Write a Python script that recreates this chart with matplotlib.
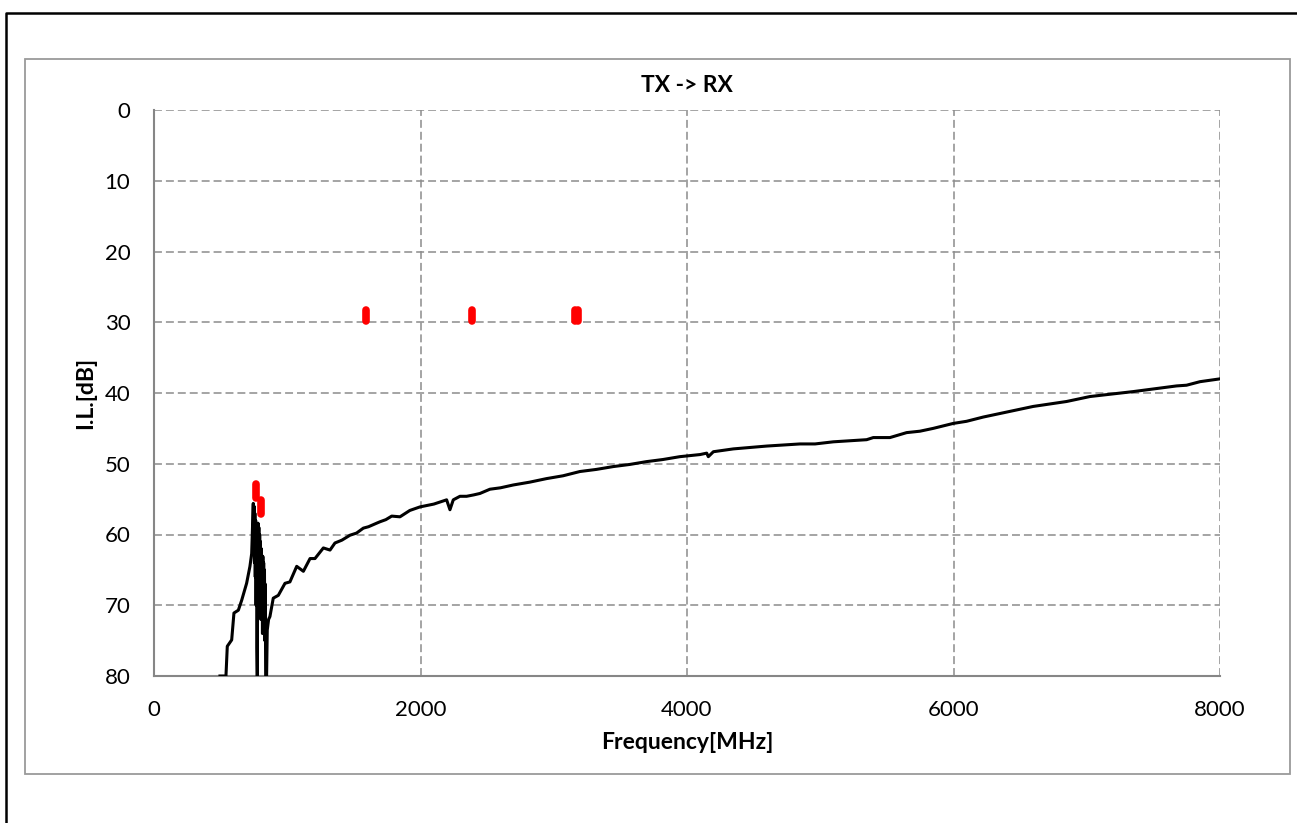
import matplotlib
matplotlib.use("Agg")
import matplotlib.pyplot as plt
from matplotlib.patches import Rectangle
from matplotlib.lines import Line2D

plt.rcParams['font.family'] = ['Lato', 'DejaVu Sans']

# ---- data ----
freq_mhz = [495, 540, 550, 583, 600, 633, 658, 695, 720, 733, 745,
            748, 751, 754, 757, 760, 763, 766, 769, 772, 775, 778, 781, 784,
            787, 790, 793, 796, 799, 802, 805, 808, 811, 814, 817, 820, 823,
            826, 829, 832, 835, 838, 841, 845, 850, 860, 870,
            895, 933, 983, 1020, 1071, 1121, 1171, 1208, 1271, 1321, 1358,
            1410, 1471, 1520, 1571, 1610, 1671, 1696, 1740, 1784, 1846, 1920,
            1996, 2100, 2196, 2221, 2246, 2296, 2346, 2400, 2446, 2521, 2600,
            2696, 2820, 2946, 3070, 3196, 3320, 3446, 3570, 3696, 3820, 3946,
            4098, 4148, 4160, 4198, 4348, 4598, 4848, 4961, 5098, 5348, 5398,
            5523, 5648, 5748, 5848, 5998, 6098, 6223, 6348, 6598, 6849, 7024,
            7349, 7674, 7749, 7850, 8000]
il_db = [80.0, 80.0, 75.8, 74.9, 71.1, 70.7, 69.3, 66.9, 64.5, 62.7, 55.6,
         62.0, 56.0, 64.0, 57.0, 66.0, 58.0, 70.0, 60.0, 76.0, 80.0, 66.0, 58.4, 63.0,
         59.0, 67.0, 60.0, 69.0, 61.0, 72.0, 62.0, 70.0, 63.0, 74.0, 63.1, 71.0, 64.0,
         73.0, 65.0, 75.0, 67.0, 80.0, 80.0, 80.0, 73.5, 72.0, 71.6,
         69.0, 68.6, 66.9, 66.7, 64.5, 65.2, 63.4, 63.4, 61.9, 62.2, 61.2,
         60.8, 60.1, 59.8, 59.1, 58.9, 58.4, 58.2, 57.9, 57.4, 57.5, 56.6,
         56.1, 55.7, 55.1, 56.5, 55.1, 54.6, 54.6, 54.4, 54.2, 53.6, 53.4,
         53.0, 52.6, 52.1, 51.7, 51.1, 50.8, 50.4, 50.1, 49.7, 49.4, 49.0,
         48.7, 48.5, 49.0, 48.3, 47.9, 47.5, 47.2, 47.2, 46.9, 46.6, 46.3,
         46.3, 45.6, 45.4, 45.0, 44.3, 44.0, 43.4, 42.9, 41.9, 41.2, 40.5,
         39.8, 39.0, 38.9, 38.4, 38.0]

# red spec markers: frequency, top dB, bottom dB
spec_freq = [765, 800, 1591, 2384, 3158, 3182]
spec_top = [52.9, 55.1, 28.2, 28.2, 28.2, 28.2]
spec_bot = [54.9, 57.1, 29.8, 29.8, 29.8, 29.8]

x_ticks = [0, 2000, 4000, 6000, 8000]
y_ticks = [0, 10, 20, 30, 40, 50, 60, 70, 80]

W, H = 1297, 823
fig = plt.figure(figsize=(W / 100, H / 100), dpi=100)
ax = fig.add_axes([154 / W, 1 - 676 / H, (1220 - 154) / W, (676 - 110) / H])

ax.plot(freq_mhz, il_db, color='black', lw=2.2, zorder=3, solid_joinstyle='round')
for f, t, b in zip(spec_freq, spec_top, spec_bot):
    ax.plot([f, f], [t, b], color='#ff0000', lw=5.5, solid_capstyle='round', zorder=4)

ax.set_xlim(0, 8000)
ax.set_ylim(80, 0)
ax.set_xticks(x_ticks)
ax.set_yticks(y_ticks)
ax.tick_params(length=0, labelsize=16)
ax.tick_params(axis='y', pad=17)
ax.tick_params(axis='x', pad=17)
ax.grid(True, color='#8c8c8c', lw=1.1, ls=(0, (5.2, 2.6)))
ax.set_axisbelow(True)
for s in ['top', 'right']:
    ax.spines[s].set_visible(False)
for s in ['left', 'bottom']:
    ax.spines[s].set_color('#868686')
    ax.spines[s].set_linewidth(1.5)

ax.set_title('TX -> RX', fontsize=16.5, fontweight='bold', pad=13)
ax.set_xlabel('Frequency[MHz]', fontsize=16.5, fontweight='bold', labelpad=9)
ax.set_ylabel('I.L.[dB]', fontsize=16.5, fontweight='bold', labelpad=6)

# chart area border (gray) and outer border (black)
fig.patches.append(Rectangle((25 / W, 1 - 774 / H), 1265 / W, 715 / H,
                             transform=fig.transFigure, fill=False,
                             edgecolor='#9a9a9a', lw=1.3))
fig.lines.append(Line2D([6 / W, 6 / W, 1.02], [-0.02, 1 - 13 / H, 1 - 13 / H],
                        transform=fig.transFigure, color='black', lw=1.8))

fig.savefig('out.png', dpi=100)
